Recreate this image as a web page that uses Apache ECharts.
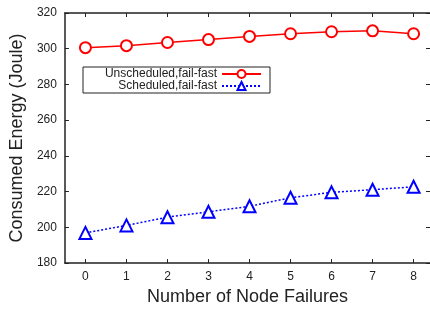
<!DOCTYPE html>
<html>
<head>
<meta charset="utf-8">
<script src="https://cdn.jsdelivr.net/npm/echarts@6/dist/echarts.min.js"></script>
<style>
  html, body { margin: 0; padding: 0; background: #fff; }
  #main { width: 430px; height: 311px; }
</style>
</head>
<body>
<div id="main"></div>
<script>
var failures = [0, 1, 2, 3, 4, 5, 6, 7, 8];
var unscheduled = [300.6, 301.7, 303.5, 305.1, 306.9, 308.4, 309.5, 310.0, 308.4];
var scheduled = [196.9, 201.1, 205.7, 208.7, 211.8, 216.6, 219.6, 221.1, 222.7];
var yTicks = [180, 200, 220, 240, 260, 280, 300, 320];

var chart = echarts.init(document.getElementById('main'));
var font = 'Liberation Sans, Arial, sans-serif';
var frame = { show: true, onZero: false, lineStyle: { color: '#222', width: 1.5 } };
var tick = { show: true, inside: true, length: 4, lineStyle: { color: '#222', width: 1 } };
var xTick = { show: true, inside: true, length: 4, customValues: failures, lineStyle: { color: '#222', width: 1 } };

function pairs(vals) {
  return vals.map(function (v, i) { return [failures[i], v]; });
}

var option = {
  animation: false,
  grid: { left: 63, top: 13, right: 0, bottom: 42 },
  legend: {
    orient: 'vertical',
    left: 83,
    top: 67,
    align: 'right',
    padding: [1, 8, 1, 4],
    itemGap: 0,
    itemWidth: 39,
    itemHeight: 10,
    borderColor: '#222',
    borderWidth: 1,
    data: ['Unscheduled,fail-fast', 'Scheduled,fail-fast'],
    formatter: function (name) { return '{n|' + name + '}'; },
    textStyle: {
      rich: {
        n: { width: 130, align: 'right', fontSize: 12, fontFamily: font, color: '#222', lineHeight: 12 }
      }
    }
  },
  xAxis: [{
    type: 'value',
    min: -0.5,
    max: 8.4,
    name: 'Number of Node Failures',
    nameLocation: 'middle',
    nameGap: 21,
    nameTextStyle: { fontSize: 18, fontFamily: font, color: '#222' },
    axisLine: frame,
    axisTick: xTick,
    axisLabel: { margin: 8, fontSize: 12, fontFamily: font, color: '#222', customValues: failures },
    splitLine: { show: false }
  }, {
    type: 'value',
    position: 'top',
    min: -0.5,
    max: 8.4,
    axisLine: frame,
    axisTick: xTick,
    axisLabel: { show: false },
    splitLine: { show: false }
  }],
  yAxis: [{
    type: 'value',
    min: yTicks[0],
    max: yTicks[yTicks.length - 1],
    interval: 20,
    name: 'Consumed Energy (Joule)',
    nameLocation: 'middle',
    nameGap: 27,
    nameTextStyle: { fontSize: 18, fontFamily: font, color: '#222' },
    axisLine: frame,
    axisTick: tick,
    axisLabel: { margin: 8, fontSize: 12, fontFamily: font, color: '#222' },
    splitLine: { show: false }
  }, {
    type: 'value',
    position: 'right',
    min: yTicks[0],
    max: yTicks[yTicks.length - 1],
    interval: 20,
    axisLine: { show: false, onZero: false },
    axisTick: tick,
    axisLabel: { show: false },
    splitLine: { show: false }
  }],
  series: [{
    name: 'Unscheduled,fail-fast',
    type: 'line',
    data: pairs(unscheduled),
    symbol: 'emptyCircle',
    symbolSize: 11,
    color: '#ff0000',
    lineStyle: { color: '#ff0000', width: 1.5 },
    itemStyle: { color: '#ff0000', borderWidth: 1.5 }
  }, {
    name: 'Scheduled,fail-fast',
    type: 'line',
    data: pairs(scheduled),
    symbol: 'emptyTriangle',
    symbolSize: 12,
    color: '#0000ff',
    lineStyle: { color: '#0000ff', width: 1.5, type: [2, 2] },
    itemStyle: { color: '#0000ff', borderWidth: 2 }
  }]
};

chart.setOption(option);
</script>
</body>
</html>
